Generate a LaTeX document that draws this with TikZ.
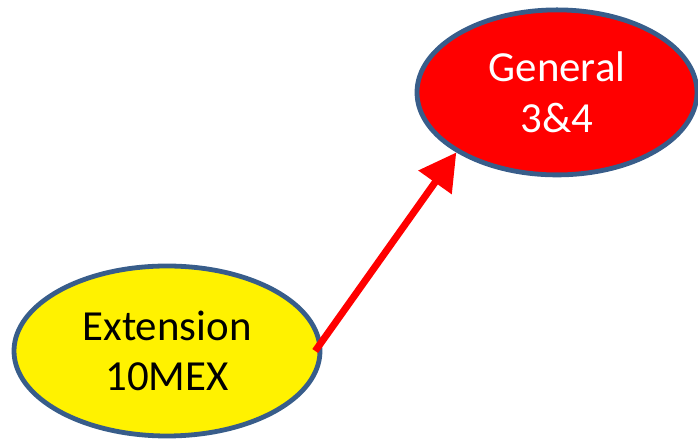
\documentclass[tikz,border=0pt]{standalone}
\usepackage{fontspec}
\setmainfont{Carlito}
\usetikzlibrary{shapes.geometric, arrows.meta}
\definecolor{outline}{HTML}{385D8A}
\begin{document}
\begin{tikzpicture}[every node/.style={ellipse, draw=outline, line width=0.12cm, inner sep=0, align=center, font=\fontsize{30.5}{36}\selectfont}]
			\useasboundingbox (0,0) rectangle (17.45,11);
			%Extension
			\node[minimum width=7.65cm, minimum height=4.25cm, fill=yellow, text=black] (ext) at (4.175,2.225) {Extension\\10MEX};
			%General
			\node[minimum width=7cm, minimum height=4.125cm, fill=red, text=white] (gen) at (13.925,8.69) {General\\3\&4};
			%Arrow
			\draw[red, line width=0.175cm, -{Triangle[length=0.92cm, width=0.98cm]}] ([xshift=-0.18cm]ext.east) -- (gen.south west);
		\end{tikzpicture}
\end{document}
